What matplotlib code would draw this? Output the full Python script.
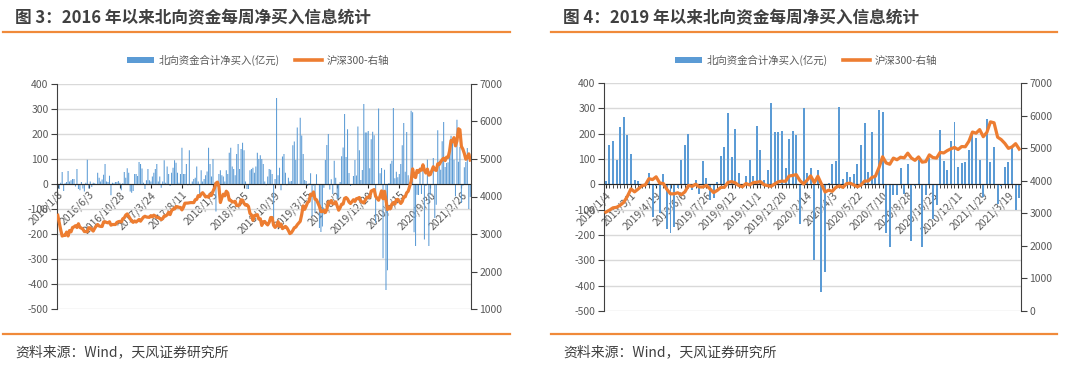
import matplotlib
matplotlib.use('Agg')
import matplotlib.pyplot as plt
from matplotlib.patches import Patch
from matplotlib.lines import Line2D

plt.rcParams['font.family'] = ['Noto Sans CJK SC', 'DejaVu Sans']
plt.rcParams['axes.unicode_minus'] = False

# ---------------- data ----------------
# weekly northbound net buying (100m CNY), 2016/1/8 - 2018/12/28 (chart 1 only)
flow_2016_2018 = [
    -5, -20, 5, 48, -28, 3, 8, 52, 10, 15,
    20, 20, -10, 60, -20, -25, 8, -18, -30, 5,
    97, -18, 10, -12, 5, 3, -3, 45, 25, 10,
    18, 37, 80, 10, 8, 33, -45, 5, 3, 8,
    8, 12, 5, -25, 3, 48, 25, 63, 45, -30,
    -35, -28, 40, 40, 32, 88, 80, 62, 5, -20,
    15, 60, 15, 10, 30, 45, 60, 80, 10, 30,
    -15, 10, 95, 5, 70, 40, -8, 45, 65, 95,
    85, 45, 5, 40, 145, 40, 40, 80, -5, 135,
    -5, 10, 20, 25, 70, 10, -40, 55, 10, 20,
    35, 50, 145, 80, 30, 100, 5, -110, -10, 40,
    55, 35, 30, 10, 55, 40, 125, 145, 70, 60,
    35, 120, 160, 60, 140, 165, 135, 10, -20, -20,
    55, 60, 65, 45, 70, 125, 100, 115, 100, 80,
    10, -5, 30, 60, 57, 40, -140, 20, 344, 35,
    65, -25, 110, 120, 45, -5, 25, 10,
]
hs300_2016_2018 = [
    3500, 3300, 3113, 2946, 2963, 2963, 3051, 2948, 3094, 3058,
    3172, 3190, 3221, 3173, 3273, 3174, 3156, 3130, 3066, 3063,
    3062, 3167, 3164, 3117, 3078, 3154, 3211, 3252, 3213, 3203,
    3200, 3320, 3328, 3307, 3298, 3326, 3236, 3253, 3253, 3253,
    3309, 3328, 3337, 3321, 3407, 3430, 3505, 3535, 3470, 3403,
    3345, 3310, 3347, 3319, 3354, 3387, 3342, 3399, 3449, 3473,
    3453, 3447, 3444, 3490, 3456, 3503, 3478, 3443, 3439, 3411,
    3385, 3409, 3480, 3480, 3512, 3578, 3518, 3623, 3666, 3668,
    3731, 3727, 3710, 3708, 3643, 3712, 3821, 3822, 3825, 3832,
    3838, 3837, 3837, 3914, 3923, 4023, 3999, 4066, 4101, 4050,
    3988, 4004, 3980, 4060, 4031, 4138, 4225, 4355, 4382, 4272,
    3840, 3968, 4062, 4018, 4141, 4095, 3904, 3899, 3854, 3854,
    3871, 3760, 3756, 3773, 3911, 3903, 3816, 3770, 3780, 3734,
    3550, 3510, 3366, 3492, 3506, 3516, 3396, 3405, 3229, 3325,
    3334, 3278, 3242, 3311, 3439, 3439, 3232, 3176, 3218, 3329,
    3205, 3266, 3143, 3173, 3203, 3165, 3093, 3011,
]
# weekly data 2019/1/4 - 2021/4 (both charts)
flow_2019_2021 = [
    12, 155, 170, 96, 226, 265, 194, 120, 16, 12,
    -8, 3, 43, -129, -6, -115, 39, -176, -192, -170,
    -15, 96, 156, 200, -22, 19, -40, 93, 25, -60,
    -55, 8, 111, 146, 280, 108, 219, 44, -8, 32,
    96, 34, 230, 135, 16, 56, 320, 206, 206, 212,
    63, 179, 209, 195, -155, 302, 43, 64, -297, 57,
    -424, -345, 4, 81, 93, 304, 23, 49, 27, 40,
    80, 155, 244, 49, 208, 35, 293, 287, -193, -248,
    -43, -44, 66, -40, 79, -222, -8, 98, -248, -43,
    104, -136, -83, 215, 93, 57, 171, 248, 68, 84,
    87, 137, 193, 181, 97, -49, 257, 89, 148, -76,
    -7, 67, 88, 144, -100, -52,
]
hs300_2019_2021 = [
    3035, 3095, 3168, 3184, 3247, 3338, 3520, 3749, 3658, 3745,
    3842, 3872, 4062, 4035, 4120, 3929, 3913, 3734, 3597, 3597,
    3630, 3572, 3657, 3854, 3826, 3893, 3808, 3808, 3858, 3747,
    3634, 3704, 3794, 3799, 3949, 3972, 3935, 3852, 3814, 3913,
    3869, 3941, 3952, 3973, 3877, 3849, 3828, 3902, 3968, 3988,
    3981, 4144, 4163, 4186, 4003, 3900, 4015, 4149, 3940, 4138,
    3895, 3653, 3710, 3675, 3797, 3839, 3797, 3912, 3924, 3868,
    3815, 3867, 3990, 3991, 4099, 4138, 4403, 4736, 4545, 4505,
    4695, 4644, 4722, 4701, 4846, 4698, 4625, 4731, 4570, 4587,
    4793, 4711, 4695, 4870, 4852, 4925, 4980, 5021, 4958, 5049,
    5042, 5211, 5495, 5459, 5570, 5351, 5483, 5807, 5779, 5336,
    5262, 5146, 4993, 5038, 5137, 4971,
]
# chart 1 also has holiday weeks (no trading) after these 2019-2021 weeks
holiday_after = [4, 16, 38, 54, 75, 89]

labels1 = ['2016/1/8', '2016/6/3', '2016/10/28', '2017/3/24', '2017/8/11',
           '2018/1/5', '2018/5/25', '2018/10/19', '2019/3/15', '2019/8/2',
           '2019/12/20', '2020/5/15', '2020/9/30', '2021/2/26']
labels2 = ['2019/1/4', '2019/3/1', '2019/4/19', '2019/6/6', '2019/7/26',
           '2019/9/12', '2019/11/1', '2019/12/20', '2020/2/14', '2020/4/3',
           '2020/5/22', '2020/7/10', '2020/8/28', '2020/10/23', '2020/12/11',
           '2021/1/29', '2021/3/19']

title1 = '图 3：2016 年以来北向资金每周净买入信息统计'
title2 = '图 4：2019 年以来北向资金每周净买入信息统计'
legend_labels = ['北向资金合计净买入(亿元)', '沪深300-右轴']
source = '资料来源：Wind，天风证券研究所'

# ---------------- figure ----------------
W, H = 1080, 366
fig = plt.figure(figsize=(W / 100, H / 100), dpi=100)


def fx(px):
    return px / W


def fy(py):
    return 1 - py / H


ORANGE = '#ED7D31'
RULE = '#F08A3A'
BLUE = '#5B9BD5'
GRID = '#D9D9D9'
TXT = '#595959'
AXC = '#404040'


def panel(rect, x, flows, hs, n, step, labels, rlim, rticks, bar_w, minor, snap):
    ax = fig.add_axes(rect)
    ax2 = ax.twinx()
    ax.bar(x, flows, width=bar_w, color=BLUE, linewidth=0, zorder=2, snap=snap)
    ax2.plot(x, hs, color=ORANGE, lw=2.3, solid_joinstyle='round', zorder=3)
    ax.set_xlim(-0.5, n - 0.5)
    ax.set_ylim(-500, 400)
    ax.set_yticks(range(-500, 401, 100))
    ax.yaxis.grid(True, color=GRID, lw=1)
    ax.set_axisbelow(True)
    ax2.set_ylim(*rlim)
    ax2.set_yticks(rticks)
    for a in (ax, ax2):
        a.spines['top'].set_visible(False)
    ax.spines['right'].set_visible(False)
    ax2.spines['left'].set_visible(False)
    ax2.spines['bottom'].set_visible(False)
    ax.spines['bottom'].set_position(('data', 0))
    ax.spines['bottom'].set_color('#262626')
    ax.spines['bottom'].set_zorder(4)
    ax.spines['left'].set_color(AXC)
    ax2.spines['right'].set_color(AXC)
    ax.set_xticks(list(range(0, step * len(labels), step)))
    ax.set_xticklabels(labels, rotation=45, ha='right', va='top',
                       rotation_mode='anchor', fontsize=7.5, color=TXT)
    if minor:
        ax.set_xticks(list(range(n)), minor=True)
        ax.tick_params(axis='x', which='minor', length=3, color='#262626')
    ax.tick_params(axis='x', which='major', length=3, color='#262626', pad=1)
    ax.tick_params(axis='y', length=4, color=AXC, labelsize=7.5,
                   labelcolor=TXT, pad=2)
    ax2.tick_params(axis='y', length=4, color=AXC, labelsize=7.5,
                    labelcolor=TXT, pad=2)
    return ax, ax2


# chart 1 positions: all 2016-2018 weeks, then 2019-2021 weeks with holiday gaps
n_pre = len(flow_2016_2018)
x_post = [n_pre + j + sum(1 for h in holiday_after if h < j)
          for j in range(len(flow_2019_2021))]
x1 = list(range(n_pre)) + x_post
n1 = x_post[-1] + 1
panel([fx(57), fy(309), fx(471 - 57), fy(84) - fy(309)],
      x1, flow_2016_2018 + flow_2019_2021, hs300_2016_2018 + hs300_2019_2021,
      n1, 21, labels1, (1000, 7000), range(1000, 7001, 1000), 0.7, False, False)

n2 = len(flow_2019_2021)
x2 = list(range(n2))
panel([fx(604), fy(311), fx(1021 - 604), fy(83) - fy(311)],
      x2, flow_2019_2021, hs300_2019_2021,
      n2, 7, labels2, (0, 7000), range(0, 7001, 1000), 0.55, True, True)

# titles, rules, legends, sources
for (tx, title, r0, r1, lcx) in [(15, title1, 3, 510, 258), (563, title2, 551, 1057, 806)]:
    fig.text(fx(tx), fy(18), title, fontsize=12, fontweight='bold',
             color='#404040', ha='left', va='center')
    fig.add_artist(Line2D([fx(r0), fx(r1)], [fy(32), fy(32)], color=RULE,
                          lw=1.6, transform=fig.transFigure))
    fig.add_artist(Line2D([fx(r0), fx(r1)], [fy(334), fy(334)], color=RULE,
                          lw=1.6, transform=fig.transFigure))
    fig.text(fx(tx), fy(352), source, fontsize=10, color='#404040',
             ha='left', va='center')
    handles = [Patch(facecolor=BLUE, edgecolor='none'),
               Line2D([], [], color=ORANGE, lw=2.6)]
    fig.legend(handles, legend_labels, loc='center',
               bbox_to_anchor=(fx(lcx), fy(60)), ncol=2, frameon=False,
               fontsize=7.5, handlelength=2.6, handleheight=0.6,
               handletextpad=0.4, columnspacing=1.5, labelcolor=TXT)

fig.savefig('out.png', dpi=100, facecolor='white')
